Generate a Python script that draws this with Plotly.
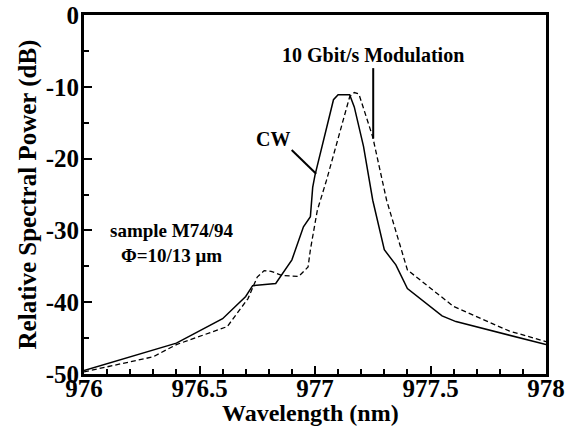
import plotly.graph_objects as go

# CW spectrum (solid)
cw_wl = [976.00, 976.40, 976.60, 976.70, 976.73, 976.83, 976.90, 976.95, 976.98, 976.99,
         977.00, 977.08, 977.10, 977.15, 977.17, 977.21, 977.25, 977.30, 977.35, 977.40,
         977.55, 977.61, 978.00]
cw_db = [-49.5, -45.7, -42.3, -39.2, -37.7, -37.4, -34.1, -29.5, -28.1, -24.0,
         -22.3, -11.8, -11.1, -11.1, -12.8, -18.3, -25.8, -32.7, -34.8, -38.1,
         -41.9, -42.7, -45.9]

# 10 Gbit/s modulation spectrum (dashed)
mod_wl = [976.00, 976.30, 976.40, 976.62, 976.71, 976.75, 976.78, 976.81, 976.86, 976.93,
          976.97, 976.98, 977.01, 977.05, 977.15, 977.17, 977.19, 977.25, 977.31, 977.40,
          977.60, 977.80, 977.84, 978.00]
mod_db = [-49.7, -47.6, -45.9, -43.4, -39.5, -36.5, -35.6, -35.7, -36.3, -36.4,
          -35.1, -32.7, -27.2, -23.0, -11.4, -10.8, -11.0, -17.0, -25.8, -35.5,
          -40.6, -43.5, -44.0, -45.5]

x_tickvals = [976, 976.5, 977, 977.5, 978]
x_ticktext = ["976", "976.5", "977", "977.5", "978"]
y_tickvals = [0, -10, -20, -30, -40, -50]
y_ticktext = ["0", "-10", "-20", "-30", "-40", "-50"]

FONT = "Liberation Serif, Times New Roman, serif"

fig = go.Figure()
fig.add_trace(go.Scatter(x=cw_wl, y=cw_db, mode="lines", name="CW",
                         line=dict(color="black", width=1.5)))
fig.add_trace(go.Scatter(x=mod_wl, y=mod_db, mode="lines", name="10 Gbit/s Modulation",
                         line=dict(color="black", width=1.3, dash="5px,3px")))

axis_common = dict(showgrid=False, zeroline=False, showline=True, linecolor="black",
                   linewidth=3, mirror=True, ticks="inside", tickcolor="black",
                   tickwidth=1.5, ticklen=8, automargin=False,
                   tickfont=dict(family=FONT, size=25, color="black", weight="bold"))

fig.update_xaxes(range=[976, 978], tickvals=x_tickvals, ticktext=x_ticktext,
                 minor=dict(ticks="inside", dtick=0.1, ticklen=5, tickwidth=1.5, tickcolor="black"),
                 ticklabelstandoff=-10,
                 **axis_common)
fig.update_yaxes(range=[-50, 0], tickvals=y_tickvals, ticktext=y_ticktext,
                 minor=dict(ticks="inside", dtick=5, ticklen=5, tickwidth=1.5, tickcolor="black"),
                 ticklabelstandoff=-3,
                 title=dict(text="Relative Spectral Power (dB)", standoff=2,
                            font=dict(family=FONT, size=25, color="black", weight="bold")),
                 **axis_common)

# x-axis title placed just under the tick labels
fig.add_annotation(xref="paper", yref="paper", x=0.49, y=-0.108, yanchor="middle",
                   text="Wavelength (nm)", showarrow=False,
                   font=dict(family=FONT, size=24, color="black", weight="bold"))

ann_font = dict(family=FONT, size=20, color="black", weight="bold")
fig.add_annotation(x=977.249, y=-5.6, text="10 Gbit/s Modulation", showarrow=False, font=ann_font)
fig.add_annotation(x=976.816, y=-17.3, text="CW", showarrow=False, font=ann_font)
fig.add_annotation(x=976.38, y=-31.75, text="sample M74/94<br>Φ=10/13 μm", showarrow=False,
                   font=dict(family=FONT, size=19, color="black", weight="bold"))

fig.add_shape(type="line", x0=977.252, y0=-7.4, x1=977.252, y1=-17.2,
              line=dict(color="black", width=2))
fig.add_shape(type="line", x0=976.899, y0=-18.8, x1=977.005, y1=-22.1,
              line=dict(color="black", width=2))

fig.update_layout(width=582, height=428, margin=dict(l=84, r=36, t=15, b=54),
                  plot_bgcolor="white", paper_bgcolor="white", showlegend=False)

fig.write_html("out.html")
